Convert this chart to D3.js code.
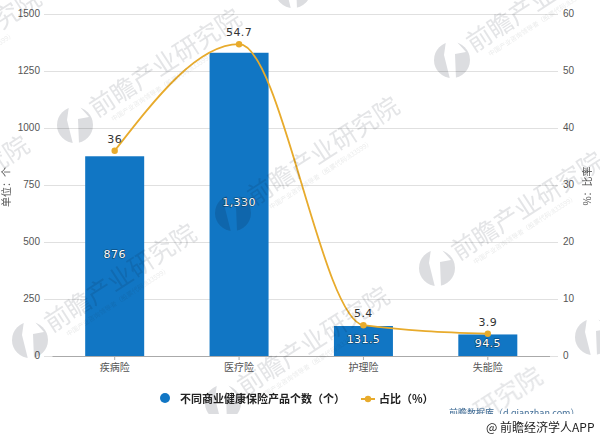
<!DOCTYPE html>
<html><head><meta charset="utf-8">
<script src="https://cdn.jsdelivr.net/npm/d3@7"></script>
<style>html,body{margin:0;padding:0;background:#fff}svg{display:block}text{font-family:"Noto Sans CJK SC","DejaVu Sans",sans-serif}</style>
</head><body><div id="c"></div>
<script>
const categories = ["疾病险","医疗险","护理险","失能险"];
const counts = [876,1330,131.5,94.5];
const countLabels = ["876","1,330","131.5","94.5"];
const shares = [36,54.7,5.4,3.9];
const leftTicks = [0,250,500,750,1000,1250,1500];
const rightTicks = [0,10,20,30,40,50,60];
const legendNames = ["不同商业健康保险产品个数（个）","占比（%）"];
const leftTitle = "单位：个";
const rightTitle = "%：比率";
const wmMain = "前瞻产业研究院";
const wmSub = "中国产业咨询领导者（股票代码:833599）";
const wmAnchors = [[75,125],[452,60],[30,340],[223,403],[437,268],[593,337],[233,213],[-137,252],[-125,105],[293,-10],[376,483]];

const W=600,H=438;
const svg=d3.select("#c").append("svg").attr("width",W).attr("height",H);
svg.append("rect").attr("width",W).attr("height",H).attr("fill","#fff");
const x=d3.scaleBand().domain(categories).range([52.5,550]);
const yL=d3.scaleLinear().domain([0,1500]).range([356,14]);
const yR=d3.scaleLinear().domain([0,60]).range([356,14]);
const barW=59;
const blue="#1176c4",gold="#e8ab2c";
const mid=c=>x(c)+x.bandwidth()/2;

svg.append("g").selectAll("line").data(leftTicks).join("line")
 .attr("x1",44).attr("x2",558).attr("y1",d=>yL(d)+.5).attr("y2",d=>yL(d)+.5)
 .attr("stroke","#e0e0e0").attr("stroke-width",1);

const styleTicks=g=>{g.select(".domain").remove();
 g.selectAll("text").attr("font-size",10).attr("fill","#555").attr("dy","0.2em").style("font-family","'Liberation Sans',sans-serif");};
svg.append("g").attr("transform","translate(44,0)")
 .call(d3.axisLeft(yL).tickValues(leftTicks).tickSize(0).tickPadding(4).tickFormat(d3.format("d"))).call(styleTicks);
svg.append("g").attr("transform","translate(558,0)")
 .call(d3.axisRight(yR).tickValues(rightTicks).tickSize(0).tickPadding(5).tickFormat(d3.format("d"))).call(styleTicks);

svg.append("g").selectAll("rect").data(categories).join("rect")
 .attr("x",d=>mid(d)-barW/2).attr("width",barW)
 .attr("y",(d,i)=>yL(counts[i])).attr("height",(d,i)=>356-yL(counts[i]))
 .attr("fill",blue);

const gX=svg.append("g").attr("transform","translate(0,356)")
 .call(d3.axisBottom(x).tickSize(4).tickPadding(4));
gX.select(".domain").attr("stroke","#aaa").attr("d","M52.5,0.5H550");
gX.selectAll("line").attr("stroke","#aaa");
gX.selectAll("text").attr("font-size",10).attr("fill","#555");

const line=d3.line().x((d,i)=>mid(categories[i])).y(d=>yR(d)).curve(d3.curveMonotoneX);
svg.append("path").datum(shares).attr("d",line).attr("fill","none").attr("stroke",gold).attr("stroke-width",1.8);
svg.append("g").selectAll("circle").data(shares).join("circle")
 .attr("cx",(d,i)=>mid(categories[i])).attr("cy",d=>yR(d)).attr("r",3.2).attr("fill",gold);

const lbl="'DejaVu Sans',sans-serif";
svg.append("g").selectAll("text").data(shares).join("text")
 .attr("x",(d,i)=>mid(categories[i])).attr("y",d=>yR(d)-8)
 .attr("text-anchor","middle").attr("font-size",11).attr("letter-spacing",.4)
 .attr("fill","#333").style("font-family",lbl).text(d=>d);
svg.append("g").selectAll("text").data(countLabels).join("text")
 .attr("x",(d,i)=>mid(categories[i]))
 .attr("y",(d,i)=>(yL(counts[i])+356)/2+2)
 .attr("text-anchor","middle").attr("font-size",11).attr("letter-spacing",.4)
 .attr("fill","#fff").attr("stroke","#0d3f66").attr("stroke-width",1.2).attr("paint-order","stroke")
 .style("font-family",lbl).text(d=>d);

const wm=svg.append("g").style("mix-blend-mode","multiply");
wmAnchors.forEach(([a,b])=>{
 const g=wm.append("g").attr("transform",`translate(${a},${b})`);
 g.append("circle").attr("r",18).attr("fill","#dcdde0");
 g.append("path").attr("d","M-6,-19L4,-19L14,-8L3,-6L4,19L-2,19L-8,-5Z").attr("fill","#fff");
 const t=g.append("g").attr("transform","rotate(-33)");
 t.append("text").attr("x",22).attr("y",6).attr("font-size",25).attr("fill","#e4e5e7").text(wmMain);
 t.append("text").attr("x",34).attr("y",18).attr("font-size",6.5).attr("fill","#ebecec").text(wmSub);
});

svg.append("text").attr("transform","translate(10,187) rotate(-90)").attr("text-anchor","middle")
 .attr("font-size",10).attr("fill","#555").text(leftTitle);
svg.append("text").attr("transform","translate(591,186) rotate(-90)").attr("text-anchor","middle")
 .attr("font-size",10).attr("fill","#555").text(rightTitle);

svg.append("text").attr("x",449).attr("y",416).attr("font-size",9).attr("fill","#3d6a94").text("前瞻数据库（d.qianzhan.com）");
svg.append("rect").attr("x",0).attr("y",414).attr("width",W).attr("height",24).attr("fill","#fff");
svg.append("text").attr("x",486).attr("y",432).attr("font-size",12).attr("fill","#222").text("@ 前瞻经济学人APP");

svg.append("circle").attr("cx",165).attr("cy",398).attr("r",5).attr("fill",blue);
svg.append("text").attr("x",180).attr("y",403).attr("font-size",11).attr("font-weight",700).attr("fill","#222").text(legendNames[0]);
svg.append("line").attr("x1",361).attr("x2",375).attr("y1",399).attr("y2",399).attr("stroke",gold).attr("stroke-width",2);
svg.append("circle").attr("cx",368).attr("cy",399).attr("r",3.2).attr("fill",gold);
svg.append("text").attr("x",379).attr("y",403).attr("font-size",11).attr("font-weight",700).attr("fill","#222").text(legendNames[1]);
</script></body></html>
